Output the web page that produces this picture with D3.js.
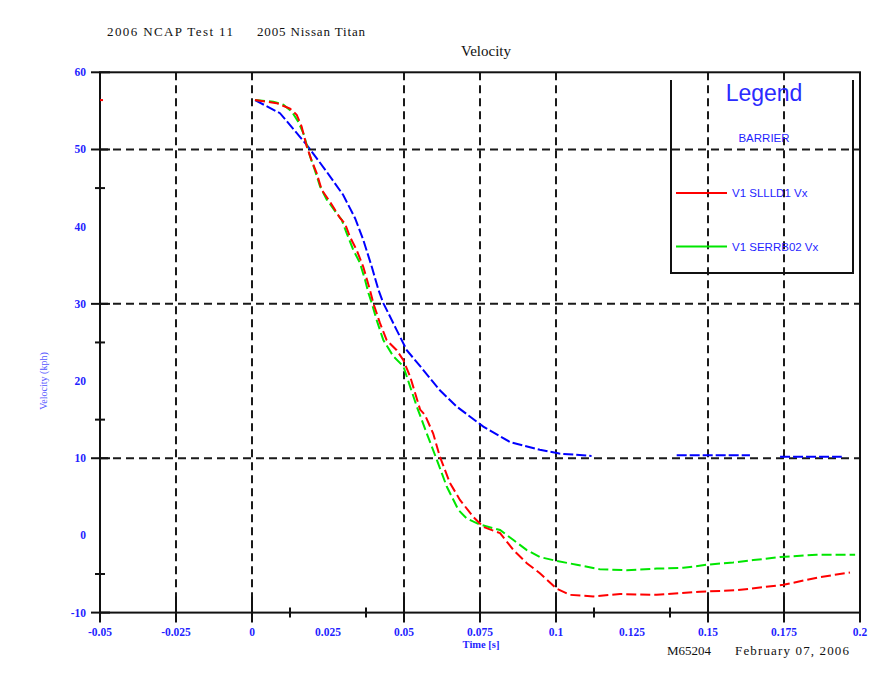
<!DOCTYPE html>
<html>
<head>
<meta charset="utf-8">
<script src="https://cdn.jsdelivr.net/npm/d3@7"></script>
<style>
  html, body { margin: 0; padding: 0; background: #fff; }
  svg { display: block; }
</style>
</head>
<body>
<svg id="chart" width="883" height="675"></svg>
<script>
// Barrier velocity traces, time in seconds, velocity in kph
const barrierTime = [0.001, 0.0092, 0.018, 0.0246, 0.030, 0.0339, 0.0366, 0.0394, 0.0416, 0.0432, 0.0476, 0.0509, 0.0558, 0.0618, 0.0673, 0.0761, 0.0849, 0.0947, 0.1011, 0.1117, null, 0.1397, 0.1638, null, 0.1737, 0.194];
const barrierVel  = [56.4, 54.7, 50.6, 47.1, 44.1, 41.1, 38.3, 34.8, 31.8, 30.1, 26.6, 24.0, 21.7, 18.8, 16.7, 14.1, 12.1, 11.1, 10.6, 10.3, null, 10.4, 10.4, null, 10.2, 10.2];

const sllTime = [0.001, 0.0081, 0.0125, 0.0147, 0.0163, 0.018, 0.0196, 0.0213, 0.0229, 0.0257, 0.029, 0.0306, 0.0322, 0.0344, 0.0366, 0.0388, 0.0399, 0.0421, 0.0443, 0.0476, 0.0498, 0.052, 0.0553, 0.0569, 0.0596, 0.0618, 0.0651, 0.0684, 0.0728, 0.0761, 0.0816, 0.086, 0.0904, 0.0947, 0.1002, 0.1046, 0.1123, 0.1211, 0.1331, 0.1474, 0.1594, 0.1748, 0.1868, 0.1967];
const sllVel  = [56.4, 56.0, 55.3, 54.5, 53.0, 50.4, 48.6, 46.9, 44.8, 43.2, 41.1, 40.4, 38.7, 37.0, 34.8, 31.8, 30.1, 27.5, 25.3, 24.0, 22.7, 20.6, 16.3, 15.6, 13.2, 10.2, 6.8, 4.6, 2.4, 1.1, 0.3, -1.9, -3.6, -4.9, -6.9, -7.7, -7.9, -7.6, -7.7, -7.3, -7.1, -6.4, -5.4, -4.8];

const serTime = [0.001, 0.007, 0.0103, 0.0131, 0.0152, 0.0169, 0.018, 0.0191, 0.0207, 0.0224, 0.0246, 0.0279, 0.0295, 0.0312, 0.0333, 0.0355, 0.0372, 0.0383, 0.0394, 0.041, 0.0432, 0.0465, 0.0498, 0.052, 0.0542, 0.0575, 0.0608, 0.0641, 0.0679, 0.0706, 0.075, 0.0816, 0.086, 0.0904, 0.0947, 0.1002, 0.1068, 0.1145, 0.1233, 0.1331, 0.1419, 0.1496, 0.1583, 0.1649, 0.1737, 0.1857, 0.1984];
const serVel  = [56.4, 56.2, 55.8, 54.9, 53.6, 52.1, 50.6, 49.1, 47.3, 45.2, 43.5, 41.7, 40.9, 39.1, 37.0, 35.3, 33.1, 31.4, 30.1, 27.9, 25.3, 23.2, 21.9, 19.3, 16.7, 13.2, 9.8, 6.3, 3.3, 2.2, 1.4, 0.7, -0.6, -1.9, -2.8, -3.3, -3.8, -4.4, -4.5, -4.3, -4.2, -3.8, -3.5, -3.2, -2.8, -2.5, -2.5];

// first red sample sitting on the left axis
const sllPreTime = [-0.05];
const sllPreVel = [56.4];

const xTickValues = [-0.05, -0.025, 0, 0.025, 0.05, 0.075, 0.1, 0.125, 0.15, 0.175, 0.2];
const xTickLabels = ["-0.05", "-0.025", "0", "0.025", "0.05", "0.075", "0.1", "0.125", "0.15", "0.175", "0.2"];
const yTickValues = [60, 50, 40, 30, 20, 10, 0, -10];
const yTickLabels = ["60", "50", "40", "30", "20", "10", "0", "-10"];

const xGrid = [-0.025, 0, 0.05, 0.075, 0.1, 0.15, 0.175];
const yGrid = [50, 30, 10];
const xMajor = [-0.05, -0.025, 0, 0.05, 0.075, 0.1, 0.15, 0.175, 0.2];
const yMajor = [60, 50, 30, 10, -10];
const xMinor = [0.0125, 0.0375, 0.1125, 0.1375];
const yMinor = [45, 25, 15, -5];

const seriesNames = ["V1 SLLLD1 Vx", "V1 SERRB02 Vx"];
const seriesColors = ["#ff0000", "#00e600"];
const barrierColor = "#0000ff";
const textBlue = "#1f1fff";

const svg = d3.select("#chart");
const x = d3.scaleLinear().domain([-0.05, 0.2]).range([100, 860]);
const y = d3.scaleLinear().domain([-10, 60]).range([612.6, 72.3]);
const [x0, x1] = x.range();
const [y0, y1] = y.range();

const serif = "'Liberation Serif', 'Times New Roman', serif";
const sans = "'Liberation Sans', Arial, sans-serif";

// header and title
svg.append("text").attr("x", 107).attr("y", 36)
  .attr("font-family", serif).attr("font-size", 13).attr("fill", "#111")
  .attr("textLength", 126).attr("lengthAdjust", "spacing")
  .text("2006 NCAP Test 11");
svg.append("text").attr("x", 257).attr("y", 36)
  .attr("font-family", serif).attr("font-size", 13).attr("fill", "#111")
  .attr("textLength", 108).attr("lengthAdjust", "spacing")
  .text("2005 Nissan Titan");
svg.append("text").attr("x", 486).attr("y", 56).attr("text-anchor", "middle")
  .attr("font-family", serif).attr("font-size", 15).attr("fill", "#111")
  .text("Velocity");

// dashed grid
const grid = svg.append("g").attr("stroke", "#1a1a1a").attr("stroke-width", 2)
  .attr("stroke-dasharray", "8,5");
grid.selectAll("line.gx").data(xGrid).join("line").attr("class", "gx")
  .attr("x1", d => x(d)).attr("x2", d => x(d)).attr("y1", y1).attr("y2", y0);
grid.selectAll("line.gy").data(yGrid).join("line").attr("class", "gy")
  .attr("x1", x0).attr("x2", x1).attr("y1", d => y(d)).attr("y2", d => y(d));

// frame
const frame = svg.append("g").attr("stroke", "#111").attr("stroke-width", 2).attr("fill", "none");
frame.append("rect").attr("x", x0).attr("y", y1).attr("width", x1 - x0).attr("height", y0 - y1);

// ticks
frame.selectAll("line.xmaj").data(xMajor).join("line").attr("class", "xmaj")
  .attr("x1", d => x(d)).attr("x2", d => x(d)).attr("y1", y0 - 16).attr("y2", y0 + 10);
frame.selectAll("line.xmin").data(xMinor).join("line").attr("class", "xmin")
  .attr("x1", d => x(d)).attr("x2", d => x(d)).attr("y1", y0 - 5).attr("y2", y0 + 5);
frame.selectAll("line.ymaj").data(yMajor).join("line").attr("class", "ymaj")
  .attr("x1", x0 - 9).attr("x2", x0 + 10).attr("y1", d => y(d)).attr("y2", d => y(d));
frame.selectAll("line.ymin").data(yMinor).join("line").attr("class", "ymin")
  .attr("x1", x0 - 5).attr("x2", x0 + 5).attr("y1", d => y(d)).attr("y2", d => y(d));

// tick labels
svg.append("g").selectAll("text").data(xTickValues).join("text")
  .attr("x", d => x(d)).attr("y", 636).attr("text-anchor", "middle")
  .attr("font-family", serif).attr("font-size", 11.5).attr("font-weight", "bold")
  .attr("fill", textBlue)
  .text((d, i) => xTickLabels[i]);
svg.append("g").selectAll("text").data(yTickValues).join("text")
  .attr("x", 86).attr("y", d => y(d) + 4).attr("text-anchor", "end")
  .attr("font-family", serif).attr("font-size", 11.5).attr("font-weight", "bold")
  .attr("fill", textBlue)
  .text((d, i) => yTickLabels[i]);

// axis titles
svg.append("text").attr("x", 481).attr("y", 648).attr("text-anchor", "middle")
  .attr("font-family", serif).attr("font-size", 10.5).attr("font-weight", "bold")
  .attr("fill", textBlue)
  .text("Time [s]");
svg.append("text").attr("transform", "translate(47,381) rotate(-90)").attr("text-anchor", "middle")
  .attr("font-family", serif).attr("font-size", 10).attr("fill", "#5555ff")
  .text("Velocity (kph)");
svg.append("text").attr("x", 667).attr("y", 655)
  .attr("font-family", serif).attr("font-size", 13).attr("fill", "#111")
  .text("M65204");
svg.append("text").attr("x", 735).attr("y", 655)
  .attr("font-family", serif).attr("font-size", 13).attr("fill", "#111")
  .attr("textLength", 114).attr("lengthAdjust", "spacing")
  .text("February 07, 2006");

// curves
const toPoints = (ts, vs) => ts.map((t, i) => ({ t, v: vs[i] }));
const line = d3.line().defined(d => d.t != null && d.v != null)
  .x(d => x(d.t)).y(d => y(d.v));

const plot = svg.append("g").attr("fill", "none").attr("stroke-width", 2);
plot.append("path").datum(toPoints(barrierTime, barrierVel))
  .attr("stroke", barrierColor).attr("stroke-dasharray", "10,3").attr("d", line);
plot.append("path").datum(toPoints(serTime, serVel))
  .attr("stroke", seriesColors[1]).attr("stroke-dasharray", "10,4").attr("d", line);
plot.append("path").datum(toPoints(sllTime, sllVel))
  .attr("stroke", seriesColors[0]).attr("stroke-dasharray", "10,4").attr("d", line);
plot.selectAll("line.pre").data(toPoints(sllPreTime, sllPreVel)).join("line")
  .attr("class", "pre").attr("stroke", seriesColors[0])
  .attr("x1", d => x(d.t)).attr("x2", d => x(d.t) + 3)
  .attr("y1", d => y(d.v)).attr("y2", d => y(d.v));

// legend
const lg = svg.append("g");
lg.append("path").attr("fill", "none").attr("stroke", "#111").attr("stroke-width", 2)
  .attr("d", "M671,80V273H853V80");
lg.append("text").attr("x", 764).attr("y", 101).attr("text-anchor", "middle")
  .attr("font-family", sans).attr("font-size", 23).attr("fill", "#2b2bff")
  .text("Legend");
lg.append("text").attr("x", 764).attr("y", 142).attr("text-anchor", "middle")
  .attr("font-family", sans).attr("font-size", 11.5).attr("fill", textBlue)
  .text("BARRIER");
lg.selectAll("line.key").data(seriesNames).join("line").attr("class", "key")
  .attr("x1", 676).attr("x2", 727)
  .attr("y1", (d, i) => 193 + i * 53.5).attr("y2", (d, i) => 193 + i * 53.5)
  .attr("stroke", (d, i) => seriesColors[i]).attr("stroke-width", 2);
lg.selectAll("text.key").data(seriesNames).join("text").attr("class", "key")
  .attr("x", 732).attr("y", (d, i) => 197 + i * 53.5)
  .attr("font-family", sans).attr("font-size", 11.5).attr("fill", textBlue)
  .text(d => d);
</script>
</body>
</html>
